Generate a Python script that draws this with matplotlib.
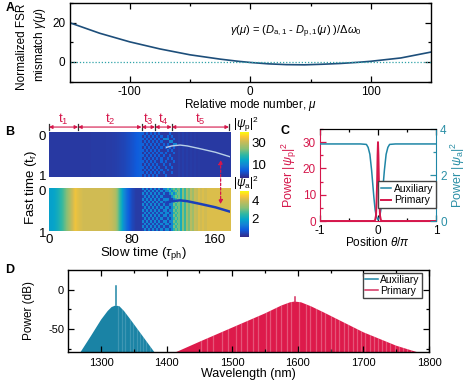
import numpy as np
import matplotlib
matplotlib.use('Agg')
import matplotlib.pyplot as plt
from matplotlib.colors import LinearSegmentedColormap
from matplotlib.patches import Polygon

plt.rcParams['font.family'] = ['Liberation Sans', 'DejaVu Sans']
plt.rcParams['font.size'] = 8
plt.rcParams['axes.unicode_minus'] = False
plt.rcParams['mathtext.fontset'] = 'custom'
plt.rcParams['mathtext.rm'] = 'Liberation Sans'
plt.rcParams['mathtext.it'] = 'Liberation Sans:italic'
plt.rcParams['mathtext.bf'] = 'Liberation Sans:bold'

W, H = 474, 381
RED = '#D5174B'
TEAL = '#1F86A6'
TEAL_TXT = '#2B8FA6'

# panel A
mu = [-150, -125, -100, -75, -50, -25, -10, 0, 15, 30, 45, 60, 75, 90, 100, 125, 150]
gamma = [20, 14.6, 10.2, 6.6, 3.6, 1.4, 0.3, -0.3, -1.0, -1.4, -1.5, -1.2, -0.8, -0.2, 0.3, 2.0, 5.0]

# panel B, slow time edges of the stages
t_edges = [0, 28, 89, 102, 118, 173]
t_labels = ['t$_1$', 't$_2$', 't$_3$', 't$_4$', 't$_5$']

# primary field, uniform along fast time before the chaotic stage (one value per 4 units)
prim_cw = [0.2, 0.2, 0.2, 0.2, 0.2, 0.2, 0.2, 0.2, 0.2, 0.2, 0.3, 0.3, 0.4, 0.4,
           0.5, 0.6, 0.8, 1.2, 1.8, 2.5, 3.5, 4.5, 5.5]
aux_cw = [1.9, 2.0, 2.3, 2.7, 3.2, 3.8, 4.3, 4.1, 4.0, 4.0, 4.0, 4.0, 4.0, 4.0,
          4.0, 3.9, 3.6, 2.6, 1.6, 1.0, 0.6, 0.4, 0.4]

# chaotic stage, 88-124 slow time, digit x scale gives the power
prim_chaos = ["303030303000030000",
              "030303030300303000",
              "303030303055500300",
              "030303030300055000",
              "303030303030300550",
              "030303030303030300",
              "303030303000303000",
              "030303030303000300",
              "303030303030030000",
              "030303030300303000",
              "303030300303000300",
              "030303030030030000",
              "303030303003003000",
              "030303030300300000",
              "303030303030003000",
              "030303030003000000"]
aux_chaos = ["313131313133535656",
             "131313131313353565",
             "313131313131135356",
             "131313131311113565",
             "313131313133311356",
             "131313131313313565",
             "313131313131133656",
             "131313131313313565",
             "313131313133133656",
             "131313131313313565",
             "313131313133133656",
             "131313131311313565",
             "313131313133133656",
             "131313131313313565",
             "313131313131133656",
             "131313131313313565"]

# after the chaos, one value per 2 units from 124 to 174
prim_tail = [0.9, 0.2, 0.8, 0.2, 0.7, 0.2, 0.6, 0.2, 0.5, 0.2, 0.3, 0.2, 0.2,
             0.2, 0.2, 0.2, 0.2, 0.2, 0.2, 0.2, 0.2, 0.2, 0.2, 0.2, 0.2, 0.2]
aux_tail = [3.0, 2.2, 3.2, 2.6, 3.4, 3.0, 3.7, 3.4, 3.9, 3.8, 4.1, 4.0, 4.1, 4.0, 4.1,
            4.1, 4.1, 4.1, 4.1, 4.1, 4.1, 4.1, 4.1, 4.1, 4.1, 4.1]

soliton_t = [113, 118, 126, 133, 145, 160, 174]
soliton_pos = [0.34, 0.31, 0.29, 0.31, 0.37, 0.45, 0.55]

# panel C
theta = [-1, -0.3, -0.2, -0.17, -0.14, -0.11, -0.09, -0.07, -0.05, -0.03, 0,
         0.03, 0.05, 0.07, 0.09, 0.11, 0.14, 0.17, 0.2, 0.3, 1]
aux_power = [3.35, 3.35, 3.33, 3.2, 2.9, 2.2, 1.6, 1.0, 0.5, 0.2, 0.05,
             0.2, 0.5, 1.0, 1.6, 2.2, 2.9, 3.2, 3.33, 3.35, 3.35]
theta_p = [-1, -0.07, -0.05, -0.035, -0.025, -0.015, -0.007, 0, 0.007, 0.015, 0.025, 0.035, 0.05, 0.07, 1]
prim_power = [0, 0, 0.3, 2, 7, 15, 25, 30, 25, 15, 7, 2, 0.3, 0, 0]

# panel D, spectrum envelopes
aux_wl = [1268, 1285, 1300, 1310, 1316, 1322, 1328, 1335, 1345, 1360, 1382]
aux_env = [-80, -58, -38, -27, -22, -20, -21, -27, -38, -55, -80]
prim_wl = [1412, 1450, 1500, 1550, 1575, 1588, 1595, 1605, 1620, 1640, 1700, 1750, 1785]
prim_env = [-80, -66, -48, -30, -20, -16, -15, -16, -21, -29, -54, -71, -80]
aux_pump = (1322, 5)
prim_pump = (1595, -9)
aux_stripes = [1326, 1332, 1337, 1344, 1349, 1354, 1359, 1364, 1369, 1374]
prim_stripes = [1452, 1462, 1470, 1484, 1494, 1506, 1514, 1522, 1532, 1540, 1551, 1557, 1566,
                1574, 1583, 1590, 1602, 1612, 1618, 1628, 1636, 1642, 1650, 1657, 1663, 1670,
                1676, 1684, 1690, 1697, 1703, 1710, 1716, 1722, 1729, 1735, 1741, 1748, 1754,
                1760, 1766, 1772]

parula = LinearSegmentedColormap.from_list(
    'parula', [(0, '#352A87'), (0.16, '#0F5CDD'), (0.27, '#1481D6'), (0.38, '#06A4CA'),
               (0.5, '#2EB7A4'), (0.63, '#87BF77'), (0.8, '#CFBB55'), (0.9, '#FEC832'),
               (1, '#F9FB0E')])


def px_axes(fig, left, top, right, bottom, **kw):
    # axes from pixel edges, measured from the top left of the picture
    return fig.add_axes([left / W, 1 - bottom / H, (right - left) / W, (bottom - top) / H], **kw)


def px_text(fig, x, y, s, **kw):
    kw.setdefault('ha', 'center')
    kw.setdefault('va', 'center')
    return fig.text(x / W, 1 - y / H, s, **kw)


def frame(ax):
    ax.tick_params(which='both', direction='in', top=True, right=True, width=0.9)
    ax.tick_params(which='major', length=4, pad=3)
    ax.tick_params(which='minor', length=2.5)
    for s in ax.spines.values():
        s.set_linewidth(1.0)


fig = plt.figure(figsize=(W / 100, H / 100), dpi=100)

# A
ax = px_axes(fig, 69.5, 3, 431, 81.5)
ax.plot(mu, gamma, color='#1D4E7A', lw=1.2)
ax.axhline(0, color='#2FA3A8', lw=0.9, ls=(0, (1, 1.5)))
ax.set_xlim(-150, 150)
ax.set_ylim(-10, 30)
ax.set_xticks([-100, 0, 100])
ax.set_xticks([-50, 50], minor=True)
ax.set_yticks([0, 20])
ax.set_yticks([-10, 10, 30], minor=True)
ax.tick_params(labelsize=8.5)
frame(ax)
ax.tick_params(axis='x', which='major', pad=3)
px_text(fig, 250, 105, 'Relative mode number, $\\mu$', fontsize=8.5)
px_text(fig, 22, 47, 'Normalized FSR', rotation=90, fontsize=8.5)
px_text(fig, 40, 45, 'mismatch $\\gamma(\\mu)$', rotation=90, fontsize=8.5)
px_text(fig, 296, 32, '$\\gamma(\\mu)$ = ($D_{\\mathrm{a,1}}$ - $D_{\\mathrm{p,1}}(\\mu)$ )/$\\Delta\\omega_0$',
        fontsize=8)

# B
grids = [(prim_cw, prim_chaos, prim_tail, 2.0, -2, 40, [10, 30], '|\\psi_{\\mathrm{p}}|^2', '#B8D0E8', 1.0),
         (aux_cw, aux_chaos, aux_tail, 0.5, 0.1, 4.95, [2, 4], '|\\psi_{\\mathrm{a}}|^2', '#1C3FB8', 1.8)]
b_rows = [(132, 177, 132, 178, [0.07, 0.97]), (187.7, 233, 191, 237, [0.07, 1.04])]
b_axes = []
for (cw, chaos, tail, scale, vmin, vmax, cticks, ctitle, sol_c, sol_w), (top, bot, ctop, cbot, lab_y) in zip(grids, b_rows):
    ax = px_axes(fig, 49, top, 230, bot)
    b_axes.append(ax)
    chaos_vals = np.array([[int(c) for c in row] for row in chaos]) * scale
    opts = dict(cmap=parula, vmin=vmin, vmax=vmax, aspect='auto')
    im = ax.imshow([cw], extent=(0, 89, 1, 0), interpolation='bilinear', **opts)
    ax.imshow(chaos_vals, extent=(89, 124, 1, 0), interpolation='nearest', **opts)
    ax.imshow([tail], extent=(124, 174, 1, 0), interpolation='nearest', **opts)
    ax.plot(soliton_t, soliton_pos, color=sol_c, lw=sol_w)
    ax.set_xlim(0, 174)
    ax.set_ylim(1, 0)
    ax.set_yticks(lab_y)
    ax.set_yticklabels(['0', '1'])
    ax.set_xticks([])
    ax.tick_params(length=0, labelsize=9.5, pad=2)
    for s in ax.spines.values():
        s.set_visible(False)
    cax = px_axes(fig, 240, ctop, 249, cbot)
    cb = fig.colorbar(im, cax=cax)
    cb.set_ticks(cticks)
    cb.ax.tick_params(length=0, labelsize=9.5, pad=2)
    cb.outline.set_visible(False)
    px_text(fig, 246, ctop - 8, '$' + ctitle + '$', fontsize=8.5)
b_axes[1].set_xticks([0, 80, 160])
b_axes[1].tick_params(axis='x', pad=1)
px_text(fig, 31, 187, 'Fast time (t$_{\\mathrm{r}}$)', rotation=90, fontsize=9.5)
px_text(fig, 143, 254, 'Slow time ($\\tau_{\\mathrm{ph}}$)', fontsize=9.5)

# stage brackets over the top map
top_ax = b_axes[0]
trans = top_ax.get_xaxis_transform()
for a, b, lab in zip(t_edges[:-1], t_edges[1:], t_labels):
    top_ax.annotate('', xy=(a, 1.11), xytext=(b, 1.11), xycoords=trans, textcoords=trans,
                    arrowprops=dict(arrowstyle='<|-|>', color=RED, lw=0.8, mutation_scale=5,
                                    shrinkA=0, shrinkB=0))
    top_ax.text((a + b) / 2, 1.27, lab, transform=trans, color=RED, ha='center', va='center', fontsize=9.5)
for e in t_edges:
    top_ax.plot([e, e], [1.05, 1.17], transform=trans, color='#333333', lw=0.9, clip_on=False)

# dotted arrow between the two maps
b_axes[1].annotate('', xy=(165, 0.38), xycoords=b_axes[1].transData,
                   xytext=(165, 0.62), textcoords=b_axes[0].transData,
                   arrowprops=dict(arrowstyle='<|-|>', color=RED, lw=0.9, ls=(0, (2, 1.5)),
                                   mutation_scale=6, shrinkA=0, shrinkB=0))

# C
ax = px_axes(fig, 320, 129, 436, 221)
ax.set_xlim(-1, 1)
ax.set_ylim(0, 35)
ax.set_xticks([-1, 0, 1])
ax.set_xticks([-0.5, 0.5], minor=True)
ax.set_yticks([0, 10, 20, 30])
ax.set_yticks([5, 15, 25, 35], minor=True)
ax.tick_params(axis='both', labelsize=8.5)
ax.tick_params(which='both', direction='in', top=True, width=0.9)
ax.tick_params(which='major', length=4, pad=3)
ax.tick_params(which='minor', length=2.5)
ax.tick_params(axis='y', which='both', colors=RED)
ax.spines['left'].set_color(RED)
ax.spines['bottom'].set_color(RED)
ax.spines['right'].set_visible(False)
ax2 = ax.twinx()
ax2.plot(theta, aux_power, color=TEAL, lw=1.1, label='Auxiliary')
ax2.set_ylim(0, 4)
ax2.set_yticks([0, 2, 4])
ax2.set_yticks([1, 3], minor=True)
ax2.tick_params(axis='y', which='both', colors=TEAL_TXT, direction='in', labelsize=8.5, width=0.9, pad=3)
ax2.tick_params(axis='y', which='major', length=4)
ax2.tick_params(axis='y', which='minor', length=2.5)
ax2.spines['right'].set_color(TEAL)
ax2.spines['left'].set_visible(False)
ax2.spines['bottom'].set_visible(False)
# primary goes on the twin too so the spike sits over the teal dip
ax2.plot(theta_p, np.array(prim_power) * 4 / 35, color=RED, lw=1.4, label='Primary')
ax2.legend(loc='upper right', bbox_to_anchor=((436 - 320) / 116, (221 - 181) / 92),
           fontsize=7.5, frameon=True, fancybox=False, edgecolor='#444444', framealpha=1,
           borderpad=0.25, labelspacing=0.15, handlelength=1.0, handletextpad=0.25, borderaxespad=0)
px_text(fig, 289, 175, 'Power $|\\psi_{\\mathrm{p}}|^2$', rotation=90, color=RED, fontsize=9)
px_text(fig, 458, 175, 'Power $|\\psi_{\\mathrm{a}}|^2$', rotation=90, color=TEAL_TXT, fontsize=9)
px_text(fig, 377, 243, 'Position $\\theta/\\pi$', fontsize=8.5)

# D
ax = px_axes(fig, 68.3, 270, 429, 352)
for wl, env, col, stripes, alpha in [(aux_wl, aux_env, '#1A83A5', aux_stripes, 0.16),
                                     (prim_wl, prim_env, '#DD1A4B', prim_stripes, 0.26)]:
    poly = Polygon(list(zip(wl, env)), closed=True, facecolor=col, edgecolor='none')
    ax.add_patch(poly)
    lines = ax.vlines(stripes, -85, 0, color='white', lw=0.9, alpha=alpha)
    lines.set_clip_path(poly)
ax.plot([aux_pump[0], aux_pump[0]], [-20, aux_pump[1]], color=TEAL, lw=1.1, label='Auxiliary')
ax.plot([prim_pump[0], prim_pump[0]], [-15, prim_pump[1]], color='#D5305F', lw=1.1, label='Primary')
ax.set_xlim(1250, 1800)
ax.set_ylim(-79, 25)
ax.set_xticks([1300, 1400, 1500, 1600, 1700, 1800])
ax.set_xticks([1350, 1450, 1550, 1650, 1750], minor=True)
ax.set_yticks([-50, 0])
ax.set_yticks([-75, -25], minor=True)
ax.tick_params(labelsize=8)
frame(ax)
ax.tick_params(axis='x', which='major', pad=4)
ax.legend(loc='upper right', bbox_to_anchor=((422 - 68.3) / 360.7, (352 - 273) / 82),
          fontsize=7.5, frameon=True, fancybox=False, edgecolor='#444444', framealpha=1,
          borderpad=0.2, labelspacing=0.05, handlelength=1.3, handletextpad=0.2, borderaxespad=0)
px_text(fig, 29, 310, 'Power (dB)', rotation=90, fontsize=8.5)
px_text(fig, 248, 374, 'Wavelength (nm)', fontsize=9)

# panel letters
for x, y, s in [(10, 8, 'A'), (10, 132, 'B'), (285, 131, 'C'), (10, 270, 'D')]:
    px_text(fig, x, y, s, fontweight='bold', fontsize=9)

fig.savefig('out.png', dpi=100)
